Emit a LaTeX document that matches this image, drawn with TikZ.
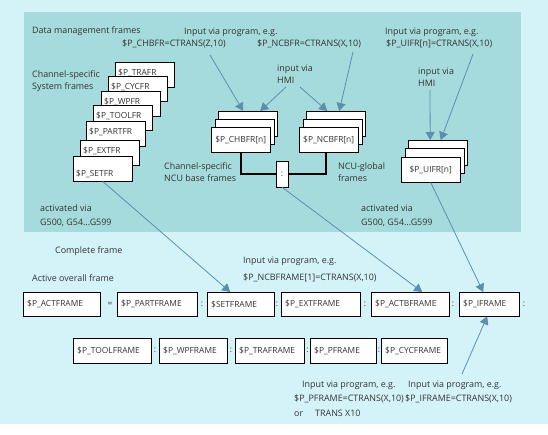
\documentclass[tikz,border=0pt]{standalone}
\usepackage{fontspec}
\setmainfont{Open Sans}
\usetikzlibrary{arrows.meta, positioning, calc}
\definecolor{bgcyan}{HTML}{D4F3F8}
\definecolor{panelteal}{HTML}{A5DBDC}
\definecolor{arrowblue}{HTML}{5C8FAD}
\definecolor{txtgray}{HTML}{333333}

\begin{document}
\begin{tikzpicture}[x={(1pt,0)}, y={(0,-1pt)},
    every node/.style={font=\fontsize{8.9}{12}\selectfont, text=txtgray},
    txt/.style={anchor=west, inner sep=0pt, align=left},
    boxfont/.style={font=\fontsize{8.4}{10}\selectfont},
    sysfr/.style={draw, fill=white, boxfont, anchor=north west, minimum width=59, text width=53, inner xsep=3, inner ysep=0, align=left, text height=13, text depth=12},
    stackfr/.style={draw, fill=white, boxfont, anchor=north west, minimum width=59, minimum height=25, inner sep=0},
    frbox/.style={draw, fill=white, boxfont, anchor=north west, minimum height=24, inner xsep=4, inner ysep=0, align=left},
    sepsym/.style={inner sep=0pt, boxfont},
    link/.style={arrowblue, line width=0.8pt, -{Triangle[width=9pt, length=8pt]}},
    bus/.style={line width=1.7pt}]

    \useasboundingbox (0,0) rectangle (548,434);
    \fill[bgcyan] (0,0) rectangle (548,424);
    \fill[panelteal] (24,12) rectangle (521,232);

    % data management frames
    \node[txt] (dmtitle) at (32,31) {Data management frames};
    \node[txt] (systitle) at (32,81) {Channel-specific\\System frames};

    % channel-specific system frames
    \node[sysfr] (trafr) at (115,62) {\$P\_TRAFR};
    \node[sysfr] (cycfr) at (108,76) {\$P\_CYCFR};
    \node[sysfr] (wpfr) at (101,91) {\$P\_WPFR};
    \node[sysfr] (toolfr) at (93,105) {\$P\_TOOLFR};
    \node[sysfr] (partfr) at (86,121) {\$P\_PARTFR};
    \node[sysfr] (extfr) at (80,140) {\$P\_EXTFR};
    \node[sysfr, text height=20, text depth=5] (setfr) at (73,156) {\$P\_SETFR};

    % NCU base frames
    \node[txt] (prgtitle) at (184,32) {Input via program, e.g.};
    \node[txt] (chbtxt) at (122,44) {\$P\_CHBFR=CTRANS(Z,10)};
    \node[txt] (ncbtxt) at (257,44) {\$P\_NCBFR=CTRANS(X,10)};
    \node[txt] (hmia) at (277,74.5) {input via\\HMI};

    \node[stackfr] (chbfrb) at (218,111) {};
    \node[stackfr] (chbfrm) at (215,119) {};
    \node[stackfr] (chbfr) at (211,127) {\$P\_CHBFR[n]};
    \node[stackfr] (ncbfrb) at (306,111) {};
    \node[stackfr] (ncbfrm) at (303,119) {};
    \node[stackfr] (ncbfr) at (299,127) {\$P\_NCBFR[n]};

    \node[draw, fill=white, boxfont, minimum width=12, minimum height=26, inner sep=0] (basesep) at (282,174) {:};
    \draw[bus] (chbfr.south) |- (basesep.west);
    \draw[bus] (basesep.east) -| ([xshift=-3]ncbfr.south);

    \node[txt] (chbname) at (164,172.5) {Channel-specific\\NCU base frames};
    \node[txt] (ncbname) at (338,172.5) {NCU-global\\frames};

    % user frames
    \node[txt] (uprgtitle) at (385,32) {Input via program, e.g.};
    \node[txt] (uiftxt) at (386,44) {\$P\_UIFR[n]=CTRANS(X,10)};
    \node[txt] (hmib) at (418,77.5) {input via\\HMI};

    \node[stackfr] (uifrb) at (408,140) {};
    \node[stackfr] (uifrm) at (405,148) {};
    \node[stackfr] (uifr) at (401,157) {\$P\_UIFR[n]};

    \node[txt, font=\fontsize{8.9}{14}\selectfont] (acta) at (40,216) {activated via\\G500, G54...G599};
    \node[txt, font=\fontsize{8.9}{14}\selectfont] (actb) at (361,216) {activated via\\G500, G54...G599};

    % inputs into the stacks
    \draw[link] ($(chbtxt.west)+(88,11)$) -- ([xshift=-4.5]chbfrb.north);
    \draw[link] ($(hmia.west)+(9,12.5)$) -- ([xshift=12.5]chbfrb.north);
    \draw[link] ($(hmia.west)+(23,12.5)$) -- ([xshift=-8.5]ncbfrb.north);
    \draw[link] ($(ncbtxt.west)+(96,8)$) -- ([xshift=3.5]ncbfrb.north);
    \draw[link] ($(hmib.west)+(12,12.5)$) -- ([xshift=-7.5]uifrb.north);
    \draw[link] ($(uiftxt.west)+(87,10)$) -- ([xshift=3]uifrb.north);

    % complete frame
    \node[txt] (cftitle) at (55,251) {Complete frame};
    \node[txt] (aftitle) at (32,278) {Active overall frame};
    \node[txt] (nprgtitle) at (243,261) {Input via program, e.g.};
    \node[txt] (ncbftxt) at (243,278) {\$P\_NCBFRAME[1]=CTRANS(X,10)};

    \node[frbox, text width=69] (actframe) at (23,292) {\$P\_ACTFRAME};
    \node[sepsym] (eqa) at (110,304) {=};
    \node[frbox, text width=72] (partframe) at (117,292) {\$P\_PARTFRAME};
    \node[sepsym] (sepa) at (202,304) {:};
    \node[frbox, text width=59] (setframe) at (207,292) {\$SETFRAME};
    \node[sepsym] (sepb) at (277,304) {:};
    \node[frbox, text width=71] (extframe) at (281,292) {\$P\_EXTFRAME};
    \node[sepsym] (sepc) at (365,304) {:};
    \node[frbox, text width=70] (actbframe) at (371,292) {\$P\_ACTBFRAME};
    \node[sepsym] (sepd) at (453,304) {:};
    \node[frbox, text width=52] (iframe) at (459,292) {\$P\_IFRAME};
    \node[sepsym] (sepe) at (524,304) {:};

    \node[frbox, minimum height=25, text width=70] (toolframe) at (73,338) {\$P\_TOOLFRAME};
    \node[sepsym] (sepf) at (155,350.5) {:};
    \node[frbox, minimum height=25, text width=60] (wpframe) at (159,338) {\$P\_WPFRAME};
    \node[sepsym] (sepg) at (231,350.5) {:};
    \node[frbox, minimum height=25, text width=61] (traframe) at (235,338) {\$P\_TRAFRAME};
    \node[sepsym] (seph) at (307.5,350.5) {:};
    \node[frbox, minimum height=25, text width=58] (pframe) at (310,338) {\$P\_PFRAME};
    \node[sepsym] (sepi) at (379,350.5) {:};
    \node[frbox, minimum height=25, text width=58] (cycframe) at (381,338) {\$P\_CYCFRAME};

    \node[txt] (pprgtitle) at (302,385) {Input via program, e.g.};
    \node[txt] (pftxt) at (294,399) {\$P\_PFRAME=CTRANS(X,10)};
    \node[txt] (transtxt) at (294,413) {or\hspace{12pt}TRANS X10};
    \node[txt] (iprgtitle) at (408,385) {Input via program, e.g.};
    \node[txt] (iftxt) at (405,399) {\$P\_IFRAME=CTRANS(X,10)};

    % activation arrows
    \draw[link] (setfr.south) -- ([xshift=-10.5]setframe.north);
    \draw[link] (basesep.south) -- ([xshift=12]actbframe.north);
    \draw[link] (uifr.south) -- ([xshift=-6]iframe.north);
    \draw[link] ($(iprgtitle.west)+(54,-11)$) -- ([xshift=-2]iframe.south);
\end{tikzpicture}
\end{document}
